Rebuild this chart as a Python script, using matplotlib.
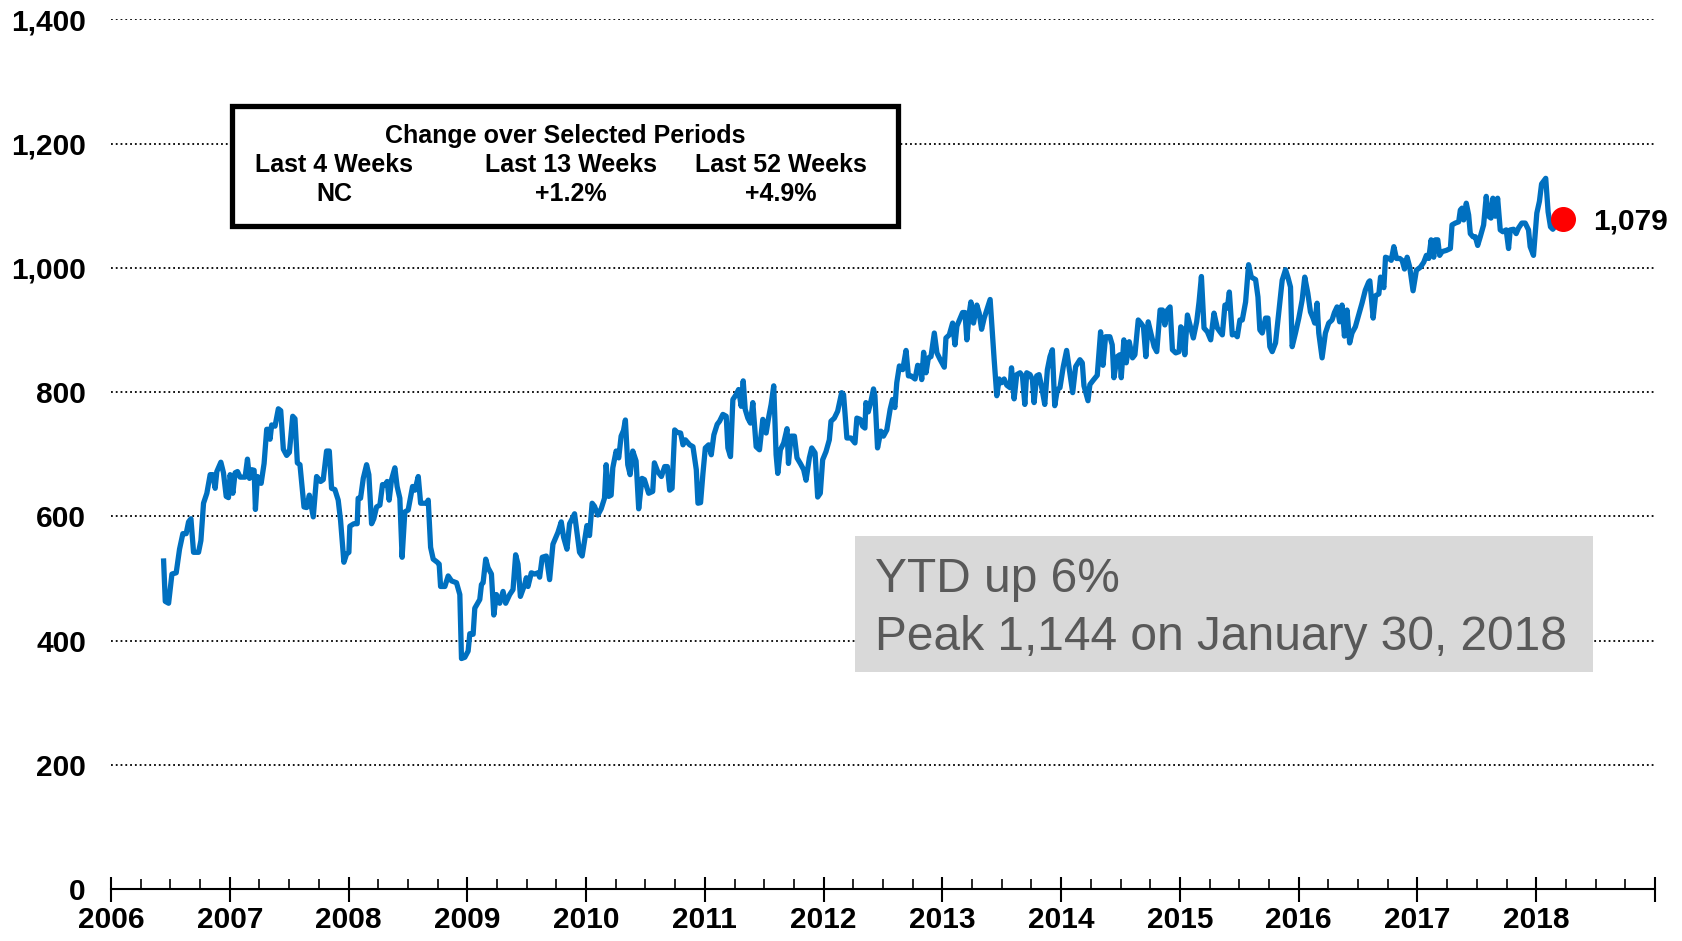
import matplotlib
matplotlib.use('Agg')
import matplotlib.pyplot as plt
from matplotlib.patches import Rectangle
from matplotlib.ticker import MultipleLocator

plt.rcParams['font.family'] = ['Liberation Sans', 'DejaVu Sans']
plt.rcParams['font.weight'] = 'bold'

# weekly index level, x in decimal years
week = [
    2006.443, 2006.457, 2006.485, 2006.513, 2006.549, 2006.577, 2006.605, 2006.633, 2006.653, 2006.673,
    2006.695, 2006.737, 2006.757, 2006.779, 2006.807, 2006.835, 2006.858, 2006.877, 2006.891, 2006.925,
    2006.947, 2006.970, 2006.989, 2007.003, 2007.026, 2007.045, 2007.065, 2007.087, 2007.129, 2007.149,
    2007.166, 2007.185, 2007.205, 2007.216, 2007.233, 2007.264, 2007.289, 2007.311, 2007.325, 2007.339,
    2007.353, 2007.381, 2007.409, 2007.429, 2007.451, 2007.479, 2007.502, 2007.530, 2007.549, 2007.569,
    2007.591, 2007.625, 2007.647, 2007.670, 2007.703, 2007.731, 2007.765, 2007.787, 2007.815, 2007.838,
    2007.857, 2007.885, 2007.913, 2007.933, 2007.961, 2007.983, 2008.003, 2008.011, 2008.045, 2008.073,
    2008.081, 2008.101, 2008.124, 2008.152, 2008.171, 2008.194, 2008.213, 2008.236, 2008.264, 2008.286,
    2008.311, 2008.325, 2008.342, 2008.362, 2008.390, 2008.409, 2008.432, 2008.451, 2008.474, 2008.502,
    2008.539, 2008.559, 2008.587, 2008.607, 2008.657, 2008.671, 2008.691, 2008.713, 2008.747, 2008.763,
    2008.775, 2008.811, 2008.839, 2008.867, 2008.909, 2008.937, 2008.951, 2008.979, 2009.007, 2009.021,
    2009.049, 2009.063, 2009.105, 2009.119, 2009.133, 2009.155, 2009.175, 2009.203, 2009.223, 2009.245,
    2009.273, 2009.301, 2009.323, 2009.357, 2009.385, 2009.407, 2009.427, 2009.447, 2009.483, 2009.497,
    2009.511, 2009.539, 2009.567, 2009.595, 2009.609, 2009.631, 2009.665, 2009.693, 2009.721, 2009.763,
    2009.791, 2009.811, 2009.839, 2009.861, 2009.883, 2009.903, 2009.945, 2009.967, 2009.987, 2010.007,
    2010.029, 2010.051, 2010.071, 2010.099, 2010.127, 2010.155, 2010.169, 2010.191, 2010.211, 2010.225,
    2010.253, 2010.275, 2010.295, 2010.315, 2010.331, 2010.351, 2010.371, 2010.393, 2010.421, 2010.443,
    2010.471, 2010.491, 2010.527, 2010.561, 2010.575, 2010.603, 2010.634, 2010.662, 2010.684, 2010.704,
    2010.724, 2010.746, 2010.768, 2010.796, 2010.816, 2010.836, 2010.872, 2010.900, 2010.928, 2010.942,
    2010.964, 2010.984, 2011.004, 2011.032, 2011.054, 2011.076, 2011.104, 2011.124, 2011.152, 2011.180,
    2011.194, 2011.216, 2011.236, 2011.264, 2011.284, 2011.306, 2011.323, 2011.340, 2011.362, 2011.384,
    2011.404, 2011.432, 2011.460, 2011.488, 2011.516, 2011.536, 2011.558, 2011.580, 2011.600, 2011.614,
    2011.636, 2011.664, 2011.692, 2011.704, 2011.726, 2011.754, 2011.776, 2011.804, 2011.832, 2011.852,
    2011.880, 2011.900, 2011.928, 2011.950, 2011.972, 2011.992, 2012.020, 2012.048, 2012.062, 2012.090,
    2012.118, 2012.152, 2012.168, 2012.196, 2012.230, 2012.264, 2012.280, 2012.308, 2012.328, 2012.348,
    2012.356, 2012.376, 2012.398, 2012.420, 2012.432, 2012.454, 2012.482, 2012.504, 2012.532, 2012.560,
    2012.580, 2012.600, 2012.616, 2012.638, 2012.666, 2012.694, 2012.714, 2012.736, 2012.770, 2012.792,
    2012.814, 2012.826, 2012.842, 2012.862, 2012.882, 2012.904, 2012.932, 2012.954, 2012.982, 2013.016,
    2013.030, 2013.058, 2013.086, 2013.106, 2013.122, 2013.150, 2013.170, 2013.190, 2013.206, 2013.226,
    2013.240, 2013.262, 2013.290, 2013.310, 2013.330, 2013.352, 2013.374, 2013.402, 2013.436, 2013.458,
    2013.478, 2013.498, 2013.520, 2013.542, 2013.570, 2013.582, 2013.604, 2013.626, 2013.654, 2013.674,
    2013.694, 2013.710, 2013.738, 2013.758, 2013.772, 2013.794, 2013.814, 2013.834, 2013.862, 2013.884,
    2013.906, 2013.926, 2013.946, 2013.968, 2013.990, 2014.018, 2014.046, 2014.069, 2014.097, 2014.122,
    2014.158, 2014.178, 2014.192, 2014.226, 2014.242, 2014.270, 2014.304, 2014.332, 2014.352, 2014.374,
    2014.410, 2014.430, 2014.444, 2014.472, 2014.494, 2014.506, 2014.528, 2014.548, 2014.573, 2014.601,
    2014.621, 2014.649, 2014.671, 2014.693, 2014.713, 2014.733, 2014.755, 2014.783, 2014.805, 2014.833,
    2014.853, 2014.873, 2014.895, 2014.917, 2014.937, 2014.965, 2014.993, 2015.007, 2015.029, 2015.041,
    2015.063, 2015.085, 2015.113, 2015.141, 2015.161, 2015.181, 2015.203, 2015.231, 2015.259, 2015.287,
    2015.315, 2015.337, 2015.357, 2015.379, 2015.399, 2015.416, 2015.441, 2015.461, 2015.483, 2015.505,
    2015.525, 2015.553, 2015.578, 2015.601, 2015.637, 2015.657, 2015.673, 2015.693, 2015.721, 2015.741,
    2015.757, 2015.777, 2015.805, 2015.833, 2015.861, 2015.889, 2015.909, 2015.931, 2015.945, 2015.973,
    2016.001, 2016.029, 2016.051, 2016.077, 2016.099, 2016.121, 2016.135, 2016.155, 2016.169, 2016.197,
    2016.225, 2016.253, 2016.281, 2016.301, 2016.323, 2016.345, 2016.365, 2016.385, 2016.407, 2016.429,
    2016.449, 2016.477, 2016.505, 2016.533, 2016.561, 2016.589, 2016.599, 2016.627, 2016.647, 2016.675,
    2016.689, 2016.717, 2016.731, 2016.759, 2016.779, 2016.801, 2016.823, 2016.851, 2016.871, 2016.891,
    2016.913, 2016.935, 2016.963, 2016.991, 2017.025, 2017.053, 2017.075, 2017.095, 2017.115, 2017.137,
    2017.151, 2017.171, 2017.187, 2017.207, 2017.243, 2017.277, 2017.291, 2017.319, 2017.347, 2017.361,
    2017.375, 2017.389, 2017.411, 2017.431, 2017.445, 2017.467, 2017.487, 2017.507, 2017.529, 2017.557,
    2017.579, 2017.599, 2017.619, 2017.635, 2017.655, 2017.675, 2017.697, 2017.719, 2017.747, 2017.767,
    2017.781, 2017.809, 2017.831, 2017.851, 2017.879, 2017.907, 2017.935, 2017.949, 2017.977, 2018.005,
    2018.027, 2018.045, 2018.080, 2018.100, 2018.120, 2018.140, 2018.170, 2018.195, 2018.225,
]
close = [
    528, 463, 460, 507, 509, 547, 572, 572, 591, 596,
    542, 542, 561, 621, 637, 667, 667, 645, 672, 687,
    670, 632, 630, 667, 637, 670, 672, 663, 663, 692,
    661, 675, 674, 611, 664, 653, 685, 740, 740, 724,
    747, 745, 773, 770, 708, 698, 703, 761, 757, 686,
    683, 615, 614, 634, 599, 664, 656, 659, 705, 705,
    645, 643, 626, 593, 526, 539, 542, 584, 588, 588,
    629, 629, 661, 683, 667, 588, 596, 615, 618, 651,
    651, 656, 626, 659, 678, 648, 629, 534, 607, 610,
    648, 642, 664, 621, 621, 626, 550, 531, 526, 523,
    487, 487, 504, 496, 493, 474, 371, 373, 383, 411,
    410, 452, 466, 490, 493, 531, 517, 507, 441, 474,
    460, 479, 460, 474, 482, 538, 523, 471, 490, 501,
    487, 509, 507, 509, 502, 534, 536, 498, 555, 574,
    591, 566, 547, 588, 596, 604, 542, 536, 561, 585,
    569, 621, 616, 602, 612, 629, 683, 632, 634, 678,
    705, 694, 729, 738, 755, 683, 667, 705, 689, 612,
    661, 659, 637, 640, 686, 672, 664, 680, 680, 642,
    645, 739, 735, 734, 715, 723, 715, 712, 675, 621,
    622, 669, 710, 715, 699, 731, 748, 753, 764, 761,
    710, 696, 788, 796, 804, 777, 818, 772, 758, 750,
    783, 712, 707, 756, 734, 758, 780, 810, 699, 669,
    707, 718, 741, 685, 729, 729, 694, 685, 675, 658,
    694, 710, 702, 631, 637, 691, 704, 723, 753, 758,
    769, 799, 796, 726, 726, 718, 758, 756, 745, 742,
    783, 768, 785, 805, 794, 710, 737, 729, 739, 772,
    788, 775, 815, 842, 836, 867, 826, 826, 821, 843,
    841, 820, 864, 831, 855, 857, 895, 863, 852, 840,
    887, 892, 911, 876, 906, 919, 928, 928, 884, 927,
    945, 911, 940, 927, 901, 919, 932, 949, 852, 794,
    821, 815, 821, 811, 807, 839, 789, 828, 831, 826,
    780, 831, 828, 820, 783, 826, 828, 810, 780, 836,
    857, 868, 778, 804, 807, 841, 867, 836, 799, 841,
    852, 847, 810, 786, 812, 819, 827, 897, 843, 889,
    889, 876, 823, 857, 860, 823, 884, 847, 881, 855,
    860, 916, 911, 905, 857, 913, 895, 873, 865, 932,
    932, 908, 932, 937, 868, 863, 865, 905, 900, 860,
    924, 908, 887, 913, 945, 986, 903, 897, 884, 927,
    903, 897, 892, 940, 935, 961, 892, 894, 889, 916,
    916, 945, 1005, 985, 981, 953, 900, 895, 919, 919,
    873, 865, 879, 929, 980, 997, 985, 969, 873, 895,
    919, 948, 985, 959, 929, 919, 911, 943, 895, 855,
    895, 911, 916, 928, 937, 913, 940, 890, 932, 879,
    895, 905, 924, 943, 964, 977, 979, 919, 955, 958,
    985, 968, 1017, 1015, 1012, 1034, 1015, 1015, 1012, 998,
    1017, 1001, 963, 996, 1001, 1009, 1020, 1015, 1045, 1017,
    1045, 1045, 1020, 1026, 1028, 1031, 1069, 1072, 1074, 1093,
    1096, 1077, 1104, 1085, 1055, 1050, 1050, 1036, 1050, 1069,
    1115, 1083, 1080, 1112, 1083, 1112, 1061, 1058, 1061, 1031,
    1061, 1062, 1055, 1064, 1072, 1072, 1061, 1034, 1020, 1088,
    1107, 1135, 1144, 1090, 1066, 1062, 1070, 1066, 1079,
]

years = list(range(2006, 2020))
year_labels = [str(y) for y in range(2006, 2019)] + ['']
y_ticks = [0, 200, 400, 600, 800, 1000, 1200, 1400]

period_names = ['Last 4 Weeks', 'Last 13 Weeks', 'Last 52 Weeks']
period_changes = ['NC', '+1.2%', '+4.9%']
note_lines = ['YTD up 6%', 'Peak 1,144 on January 30, 2018']

W, H = 1682, 941
fig = plt.figure(figsize=(W / 100, H / 100), dpi=100)
ax = fig.add_axes([111 / W, 1 - 889 / H, (1655 - 111) / W, (889 - 19.3) / H])

ax.plot(week, close, color='#0070C0', lw=3.8, solid_joinstyle='round', zorder=3)
ax.plot(week[-1], close[-1], 'o', color='#FF0000', ms=17, zorder=4)
ax.annotate(f'{close[-1]:,}', (week[-1], close[-1]), xytext=(22, -2),
            textcoords='offset points', ha='left', va='center', fontsize=21.5)

ax.set_xlim(2006, 2019)
ax.set_ylim(0, 1400)
ax.set_xticks(years)
ax.set_xticklabels(year_labels)
ax.xaxis.set_minor_locator(MultipleLocator(0.25))
ax.set_yticks(y_ticks)
ax.set_yticklabels([f'{v:,}' for v in y_ticks])

for s in ['top', 'right', 'left']:
    ax.spines[s].set_visible(False)
ax.spines['bottom'].set_linewidth(1.5)
ax.yaxis.grid(True, ls=':', color='black', lw=1.3)
ax.set_axisbelow(True)

ax.tick_params(axis='y', length=0, pad=18, labelsize=21.5)
ax.tick_params(axis='x', which='major', direction='inout', length=18, width=1.5,
               pad=3, labelsize=21.5)
ax.tick_params(axis='x', which='minor', direction='in', length=7, width=1.2)

# change-over-periods box
fig.patches.append(Rectangle((232 / W, 1 - 226 / H), (898 - 232) / W, (226 - 106) / H,
                             transform=fig.transFigure, fc='white', ec='black', lw=3.8,
                             zorder=5))
fig.text(565 / W, 1 - 136 / H, 'Change over Selected Periods', ha='center', va='center',
         fontsize=18, zorder=6)
for cx, name, chg in zip([334, 571, 781], period_names, period_changes):
    fig.text(cx / W, 1 - 165 / H, name, ha='center', va='center', fontsize=18, zorder=6)
    fig.text(cx / W, 1 - 194 / H, chg, ha='center', va='center', fontsize=18, zorder=6)

# gray note box
fig.patches.append(Rectangle((855 / W, 1 - 672 / H), (1593 - 855) / W, (672 - 536) / H,
                             transform=fig.transFigure, fc='#D9D9D9', ec='none', zorder=5))
for cy, line in zip([580, 637], note_lines):
    fig.text(875 / W, 1 - cy / H, line, ha='left', va='center', fontsize=34.5,
             fontweight='normal', color='#595959', zorder=6)

fig.savefig('out.png', dpi=100)
